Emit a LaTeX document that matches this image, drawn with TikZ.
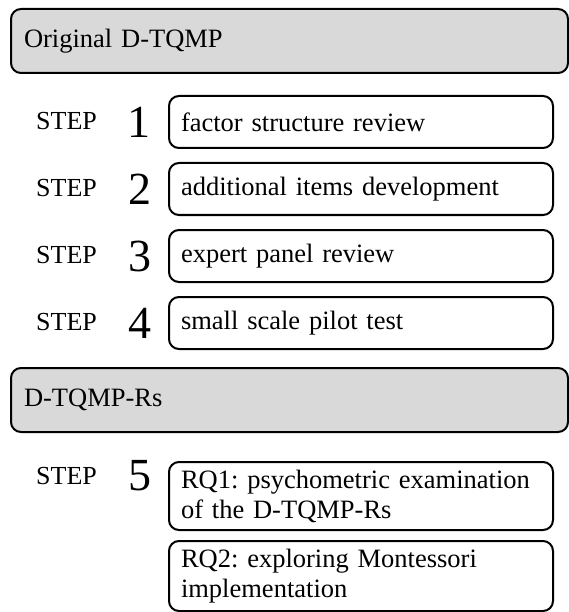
\documentclass[tikz,border=0pt]{standalone}
\usepackage{fontspec}
\setmainfont{Liberation Serif}
\frenchspacing
\begin{document}
\begin{tikzpicture}[x=1pt,y=-1pt,
  header/.style={draw=black, line width=2pt, rounded corners=10pt, fill=black!15,
    anchor=north west, minimum width=557pt, minimum height=64pt,
    text width=531pt, inner xsep=13pt, align=left, font=\frenchspacing\fontsize{26.5}{30}\selectfont},
  stepbox/.style={draw=black, line width=2pt, rounded corners=10pt, fill=white,
    anchor=north west, minimum width=384pt, minimum height=52pt,
    text width=360pt, inner xsep=12pt, inner ysep=2pt, align=left, font=\frenchspacing\fontsize{26.5}{30}\selectfont},
  steplabel/.style={anchor=west, inner sep=0pt, font=\fontsize{26}{30}\selectfont},
  stepnum/.style={anchor=center, inner sep=0pt, font=\fontsize{46}{50}\selectfont}]
\useasboundingbox (0,0) rectangle (569,612);

\node[header] (h1) at (10,8) {Original D-TQMP};

\node[stepbox] (b1) at (168,95) {factor structure review};
\node[steplabel] (s1) at (36,121) {STEP};
\node[stepnum] (n1) at (139,122) {1};

\node[stepbox] (b2) at (168,162) {additional items development};
\node[steplabel] (s2) at (36,188) {STEP};
\node[stepnum] (n2) at (140,189) {2};

\node[stepbox] (b3) at (168,229) {expert panel review};
\node[steplabel] (s3) at (36,255) {STEP};
\node[stepnum] (n3) at (140,256) {3};

\node[stepbox] (b4) at (168,296) {small scale pilot test};
\node[steplabel] (s4) at (36,322) {STEP};
\node[stepnum] (n4) at (140,323) {4};

\node[header] (h2) at (10,367) {D-TQMP-Rs};

\node[stepbox, minimum height=68pt] (b5) at (168,461) {RQ1: psychometric examination\\of the D-TQMP-Rs};
\node[stepbox, minimum height=70pt] (b6) at (168,540) {RQ2: exploring Montessori\\implementation};
\node[steplabel] (s5) at (36,476) {STEP};
\node[stepnum] (n5) at (140,476) {5};
\end{tikzpicture}
\end{document}
